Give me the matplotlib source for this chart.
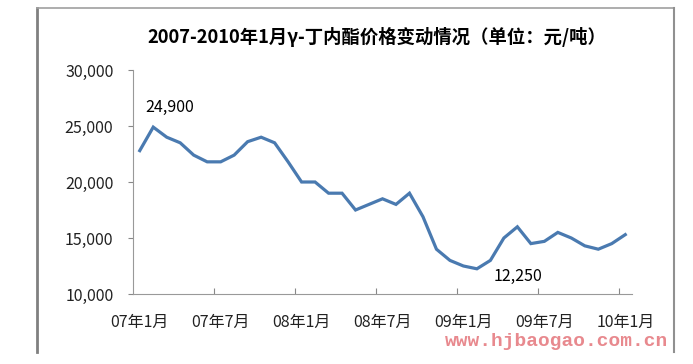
import matplotlib
matplotlib.use('Agg')
import matplotlib.pyplot as plt
from matplotlib.lines import Line2D

plt.rcParams['font.family'] = ['Noto Sans CJK SC', 'DejaVu Sans']

# Monthly price of gamma-butyrolactone, 2007-01 .. 2010-01 (yuan/ton)
months = ['07年1月', '07年2月', '07年3月', '07年4月', '07年5月', '07年6月',
          '07年7月', '07年8月', '07年9月', '07年10月', '07年11月', '07年12月',
          '08年1月', '08年2月', '08年3月', '08年4月', '08年5月', '08年6月',
          '08年7月', '08年8月', '08年9月', '08年10月', '08年11月', '08年12月',
          '09年1月', '09年2月', '09年3月', '09年4月', '09年5月', '09年6月',
          '09年7月', '09年8月', '09年9月', '09年10月', '09年11月', '09年12月',
          '10年1月']
prices = [22800, 24900, 24000, 23500, 22400, 21800,
          21800, 22400, 23600, 24000, 23500, 21800,
          20000, 20000, 19000, 19000, 17500, 18000,
          18500, 18000, 19000, 16900, 14000, 13000,
          12500, 12250, 13000, 15000, 16000, 14500,
          14700, 15500, 15000, 14300, 14000, 14500,
          15300]
yticks = [10000, 15000, 20000, 25000, 30000]
label_every = 6

fig = plt.figure(figsize=(6.93, 3.64), dpi=100)

# outer chart frame (left, top, right edges)
fx0, fx1 = 37 / 693, 674 / 693
fy0, fy1 = 1 - 352 / 364, 1 - 8 / 364
fig.add_artist(Line2D([fx0, fx0], [fy0, fy1], color='#808080', lw=2.0))
fig.add_artist(Line2D([fx0, fx1], [fy1, fy1], color='#a0a0a0', lw=1.2))
fig.add_artist(Line2D([fx1, fx1], [fy0, fy1], color='#909090', lw=1.5))

ax = fig.add_axes([133 / 693, 70 / 364, 499 / 693, 224 / 364])
x = list(range(len(prices)))
ax.plot(x, prices, color='#4A7AB0', lw=2.3, solid_joinstyle='miter')

ax.set_xlim(-0.5, len(prices) - 0.5)
ax.set_ylim(10000, 30000)
ax.set_yticks(yticks)
ax.set_yticklabels([f'{v:,}' for v in yticks], fontsize=11.5, color='#222222')

# tick marks between categories, labels on categories
ax.set_xticks([i - 0.5 for i in range(label_every, len(prices), label_every)])
ax.set_xticklabels([])
ax.set_xticks(list(range(0, len(prices), label_every)), minor=True)
ax.set_xticklabels(months[::label_every], minor=True, fontsize=11.5, color='#222222')
ax.tick_params(axis='x', which='major', direction='in', length=4, color='#888888')
ax.tick_params(axis='x', which='minor', length=0, pad=14)
ax.tick_params(axis='y', direction='out', length=3.6, color='#888888', pad=10.5)

for s in ['top', 'right']:
    ax.spines[s].set_visible(False)
for s in ['left', 'bottom']:
    ax.spines[s].set_color('#999999')
    ax.spines[s].set_linewidth(0.8)

# data labels
i_max = prices.index(max(prices))
i_min = prices.index(min(prices))
ax.annotate(f'{prices[i_max]:,}', (i_max, prices[i_max]), xytext=(12, 14),
            textcoords='offset points', ha='center', va='center', fontsize=11.5)
ax.annotate(f'{prices[i_min]:,}', (i_min, prices[i_min]), xytext=(29.5, -5.5),
            textcoords='offset points', ha='center', va='center', fontsize=11.5)

fig.text(377 / 693, 1 - 37 / 364, '2007-2010年1月γ-丁内酯价格变动情况（单位：元/吨）',
         ha='center', va='center', fontsize=13.2, fontweight='bold')

# watermark
fig.text(445 / 693, 1 - 341 / 364, 'www.hjbaogao.com.cn', ha='left', va='center',
         fontsize=14, fontweight='bold', color='#E8898E', family='Liberation Mono')

fig.savefig('out.png', dpi=100)
